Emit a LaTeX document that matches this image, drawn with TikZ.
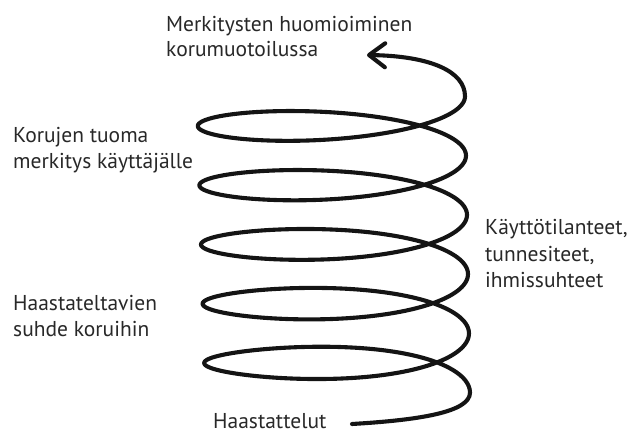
\documentclass[tikz,border=0pt]{standalone}
\usepackage{fontspec}
\setmainfont{PT Sans}
\usetikzlibrary{arrows.meta}
\definecolor{ink}{RGB}{20,20,20}
\definecolor{txt}{RGB}{40,40,40}
\begin{document}
\begin{tikzpicture}[x=1pt,y=-1pt,
  lbl/.style={anchor=base west, inner sep=0pt, font=\fontsize{21.5}{26}\selectfont, text=txt},
  coil/.style={line width=4.1pt, line cap=round, line join=round, draw=ink}]
\useasboundingbox (0,0) rectangle (633,433);
% labels
\node[lbl] (m1) at (166,32) {Merkitysten huomioiminen};
\node[lbl] (m2) at (166,57) {korumuotoilussa};
\node[lbl] (k1) at (13,143) {Korujen tuoma};
\node[lbl] (k2) at (13,169) {merkitys käyttäjälle};
\node[lbl] (h1) at (13,311) {Haastateltavien};
\node[lbl] (h2) at (13,337) {suhde koruihin};
\node[lbl] (t1) at (485,235) {Käyttötilanteet,};
\node[lbl] (t2) at (485,262) {tunnesiteet,};
\node[lbl] (t3) at (485,288) {ihmissuhteet};
\node[lbl] (ha) at (213,428.5) {Haastattelut};
% coil
\coordinate (tail) at (352,424);
\coordinate (s0) at (470,392.6);
\coordinate (tip) at (367,55);
\draw[coil, -{Straight Barb[length=16pt,width=24pt,round]}]
  (tail) .. controls (420,420) and (470,412) .. (s0)
  -- plot[domain=0:1800, samples=721, variable=\t]
     ({337.5 - 6.5*\t/1800 + (132.5 + 1.5*\t/1800)*cos(\t)},
      {392.6 - 0.16458*\t - (31 - 3*\t/1800)*(sin(\t) + 0.1*(1-\t/1800)*sin(2*\t))})
  .. controls (465,72) and (432,56) .. (tip);
\end{tikzpicture}
\end{document}
